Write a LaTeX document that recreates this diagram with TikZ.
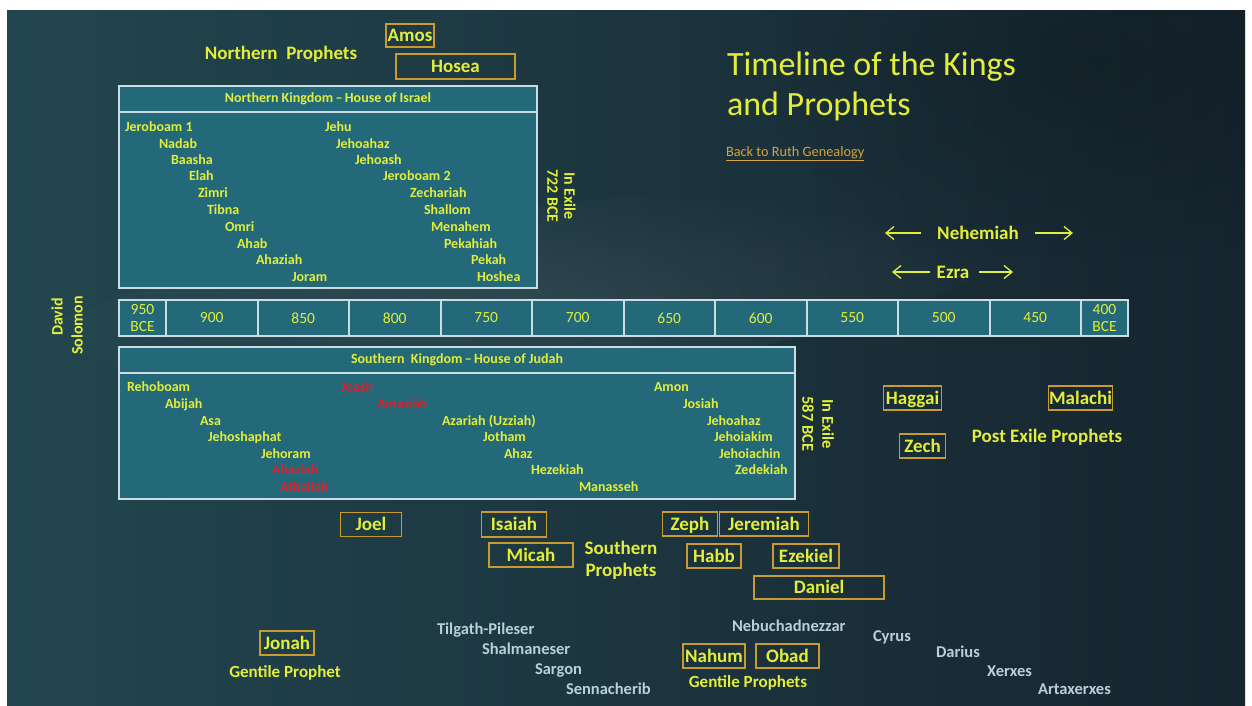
\documentclass[tikz,border=0pt]{standalone}
\usepackage{fontspec}
\setmainfont{Carlito}
\usetikzlibrary{arrows.meta,calc,fadings}
\definecolor{ylw}{HTML}{E3EE3A}
\definecolor{pgold}{HTML}{C99A2E}
\definecolor{linkc}{HTML}{D8A23C}
\definecolor{kred}{HTML}{E0202E}
\definecolor{greyb}{HTML}{B9CFDA}
\definecolor{kfill}{HTML}{236979}
\definecolor{kline}{HTML}{C9DDE2}
\definecolor{bgL}{HTML}{22464F}
\definecolor{bgR}{HTML}{16242E}
\tikzfading[name=softglow,inner color=transparent!0,outer color=transparent!100]
\begin{document}
\begin{tikzpicture}[x=1pt,y=-1pt,
  every node/.style={inner sep=0pt,outer sep=0pt},
  lbl/.style={text=ylw,font=\fontsize{19}{22}\selectfont\bfseries,align=center},
  king/.style={anchor=base west,text=ylw,font=\fontsize{14}{16}\selectfont\bfseries},
  redking/.style={king,text=kred},
  ruler/.style={anchor=base west,text=greyb,font=\fontsize{16.5}{18}\selectfont\bfseries},
  pbox/.style={draw=pgold,line width=1.5pt,text=ylw,font=\fontsize{19}{20}\selectfont\bfseries,
    text height=12.5pt,text depth=0pt},
  kbox/.style={draw=kline,line width=2pt,fill=kfill,anchor=north west},
  kdiv/.style={draw=kline,line width=2pt},
  hdr/.style={text=ylw,font=\fontsize{14}{16}\selectfont\bfseries},
  cell/.style={draw=kline,line width=2pt,fill=kfill,minimum height=36,anchor=west,
    text=ylw,font=\fontsize{15.5}{17}\selectfont,align=center},
  exile/.style={text=ylw,font=\bfseries,align=center},
  era/.style={draw=ylw,line width=1.3pt,-{Straight Barb[length=8pt,width=13pt]}},
]
\useasboundingbox (0,0) rectangle (1252,705);
\fill[white] (0,0) rectangle (1252,705);

% slide background
\shade[left color=bgL,right color=bgR] (7,10) rectangle (1245,705);
\begin{scope}
\clip (7,10) rectangle (1245,705);
\fill[white,opacity=0.08,path fading=softglow,rotate around={8:(520,300)}] (520,300) ellipse (520 and 90);
\fill[black,opacity=0.18,path fading=softglow] (1100,60) ellipse (350 and 200);
\end{scope}

% title and link
\node[anchor=base west,text=ylw,font=\fontsize{34}{40}\selectfont] (t1) at (727,75) {Timeline of the Kings};
\node[anchor=base west,text=ylw,font=\fontsize{34}{40}\selectfont] (t2) at (727,115) {and Prophets};
\node[anchor=base west,text=linkc,font=\fontsize{14.3}{16}\selectfont] (link) at (726,156) {\underline{Back to Ruth Genealogy}};

% northern prophets
\node[lbl] (np) at (281,54) {Northern~ Prophets};
\node[pbox,minimum width=48,minimum height=23] (amos) at (410,35.5) {Amos};
\node[pbox,minimum width=119,minimum height=25] (hosea) at (455.5,66.5) {Hosea};

% northern kingdom
\node[kbox,minimum width=418,minimum height=202] (nk) at (119,86) {};
\draw[kdiv] ($(nk.north west)+(0,26)$) -- ($(nk.north east)+(0,26)$);
\node[hdr] (nkh) at ($(nk.north)+(0,13)$) {Northern Kingdom\,–\,House of Israel};
\node[king] (n1) at (125,131) {Jeroboam 1};
\node[king] (n2) at (159,148) {Nadab};
\node[king] (n3) at (171,164) {Baasha};
\node[king] (n4) at (189,180) {Elah};
\node[king] (n5) at (198,197) {Zimri};
\node[king] (n6) at (207,214) {Tibna};
\node[king] (n7) at (225,231) {Omri};
\node[king] (n8) at (237,248) {Ahab};
\node[king] (n9) at (256,264) {Ahaziah};
\node[king] (n10) at (292,281) {Joram};
\node[king] (n11) at (325,131) {Jehu};
\node[king] (n12) at (336,148) {Jehoahaz};
\node[king] (n13) at (355,164) {Jehoash};
\node[king] (n14) at (383,180) {Jeroboam 2};
\node[king] (n15) at (410,197) {Zechariah};
\node[king] (n16) at (424,214) {Shallom};
\node[king] (n17) at (431,231) {Menahem};
\node[king] (n18) at (444,248) {Pekahiah};
\node[king] (n19) at (471,264) {Pekah};
\node[king] (n20) at (477,281) {Hoshea};
\node[exile,rotate=-90,font=\fontsize{16}{17}\selectfont\bfseries] (ex722) at (561.5,196) {In Exile\\722 BCE};

% David and Solomon
\node[rotate=90,anchor=east,text=ylw,font=\fontsize{16}{18}\selectfont\bfseries] (david) at (57,298) {David};
\node[rotate=90,anchor=east,text=ylw,font=\fontsize{16}{18}\selectfont\bfseries] (solomon) at (77,296) {Solomon};

% timeline
\node[cell,minimum width=47] (y950) at (119,318) {950\\BCE};
\node[cell,minimum width=91.5] (y900) at (y950.east) {900};
\node[cell,minimum width=91.5] (y850) at (y900.east) {850};
\node[cell,minimum width=91.5] (y800) at (y850.east) {800};
\node[cell,minimum width=91.5] (y750) at (y800.east) {750};
\node[cell,minimum width=91.5] (y700) at (y750.east) {700};
\node[cell,minimum width=91.5] (y650) at (y700.east) {650};
\node[cell,minimum width=91.5] (y600) at (y650.east) {600};
\node[cell,minimum width=91.5] (y550) at (y600.east) {550};
\node[cell,minimum width=91.5] (y500) at (y550.east) {500};
\node[cell,minimum width=91.5] (y450) at (y500.east) {450};
\node[cell,minimum width=47] (y400) at (y450.east) {400\\BCE};

% southern kingdom
\node[kbox,minimum width=676,minimum height=152] (sk) at (119,347) {};
\draw[kdiv] ($(sk.north west)+(0,26)$) -- ($(sk.north east)+(0,26)$);
\node[hdr] (skh) at ($(sk.north)+(0,13)$) {Southern~ Kingdom\,–\,House of Judah};
\node[king] (s1) at (127,391) {Rehoboam};
\node[king] (s2) at (165,408) {Abijah};
\node[king] (s3) at (200,425) {Asa};
\node[king] (s4) at (208,441) {Jehoshaphat};
\node[king] (s5) at (261,458) {Jehoram};
\node[redking] (s6) at (272,474) {Ahaziah};
\node[redking] (s7) at (280,491) {Athaliah};
\node[redking] (s8) at (341,391) {Joash};
\node[redking] (s9) at (377,408) {Amaziah};
\node[king] (s10) at (442,425) {Azariah (Uzziah)};
\node[king] (s11) at (483,441) {Jotham};
\node[king] (s12) at (504,458) {Ahaz};
\node[king] (s13) at (531,474) {Hezekiah};
\node[king] (s14) at (579,491) {Manasseh};
\node[king] (s15) at (654,391) {Amon};
\node[king] (s16) at (683,408) {Josiah};
\node[king] (s17) at (707,425) {Jehoahaz};
\node[king] (s18) at (714,441) {Jehoiakim};
\node[king] (s19) at (719,458) {Jehoiachin};
\node[king] (s20) at (735,474) {Zedekiah};
\node[exile,rotate=-90,font=\fontsize{16.5}{20}\selectfont\bfseries] (ex587) at (818,424) {In Exile\\587 BCE};

% Nehemiah and Ezra
\node[lbl] (neh) at (978,233) {Nehemiah};
\coordinate (nehA) at (921,233);
\coordinate (nehB) at (885,233);
\coordinate (nehC) at (1035,233);
\coordinate (nehD) at (1073,233);
\draw[era] (nehA) -- (nehB);
\draw[era] (nehC) -- (nehD);
\node[lbl] (ezra) at (953,272) {Ezra};
\coordinate (ezA) at (930,272);
\coordinate (ezB) at (892,272);
\coordinate (ezC) at (979,272);
\coordinate (ezD) at (1013,272);
\draw[era] (ezA) -- (ezB);
\draw[era] (ezC) -- (ezD);

% post exile prophets
\node[pbox,minimum width=58,minimum height=24] (haggai) at (912.5,398) {Haggai};
\node[pbox,minimum width=64,minimum height=24] (malachi) at (1080.5,398) {Malachi};
\node[pbox,minimum width=46,minimum height=24] (zech) at (922.5,446) {Zech};
\node[lbl] (pep) at (1047,437) {Post Exile Prophets};

% southern prophets
\node[pbox,minimum width=61,minimum height=24] (joel) at (371,524.5) {Joel};
\node[pbox,minimum width=65,minimum height=25] (isaiah) at (514,524.5) {Isaiah};
\node[pbox,minimum width=84,minimum height=24] (micah) at (531,555) {Micah};
\node[lbl] (sp) at (621,560) {Southern\\Prophets};
\node[pbox,minimum width=55,minimum height=24] (zeph) at (690,524) {Zeph};
\node[pbox,minimum width=89,minimum height=24] (jeremiah) at (764,524) {Jeremiah};
\node[pbox,minimum width=54,minimum height=24] (habb) at (714,556) {Habb};
\node[pbox,minimum width=66,minimum height=24] (ezekiel) at (806,556) {Ezekiel};
\node[pbox,minimum width=130,minimum height=23] (daniel) at (819,587.5) {Daniel};

% gentile prophets
\node[pbox,minimum width=54,minimum height=24] (jonah) at (287,643) {Jonah};
\node[lbl,font=\fontsize{17}{19}\selectfont\bfseries] (gp1) at (285,673) {Gentile Prophet};
\node[pbox,minimum width=62,minimum height=24] (nahum) at (714,656) {Nahum};
\node[pbox,minimum width=63,minimum height=24] (obad) at (787.5,656) {Obad};
\node[lbl,font=\fontsize{17}{19}\selectfont\bfseries] (gp2) at (748,683) {Gentile Prophets};

% foreign rulers
\node[ruler] (r1) at (437,634) {Tilgath-Pileser};
\node[ruler] (r2) at (482,654) {Shalmaneser};
\node[ruler] (r3) at (535,674) {Sargon};
\node[ruler] (r4) at (566,694) {Sennacherib};
\node[ruler] (r5) at (732,631) {Nebuchadnezzar};
\node[ruler] (r6) at (873,641) {Cyrus};
\node[ruler] (r7) at (936,657) {Darius};
\node[ruler] (r8) at (987,676) {Xerxes};
\node[ruler] (r9) at (1038,694) {Artaxerxes};
\end{tikzpicture}
\end{document}
